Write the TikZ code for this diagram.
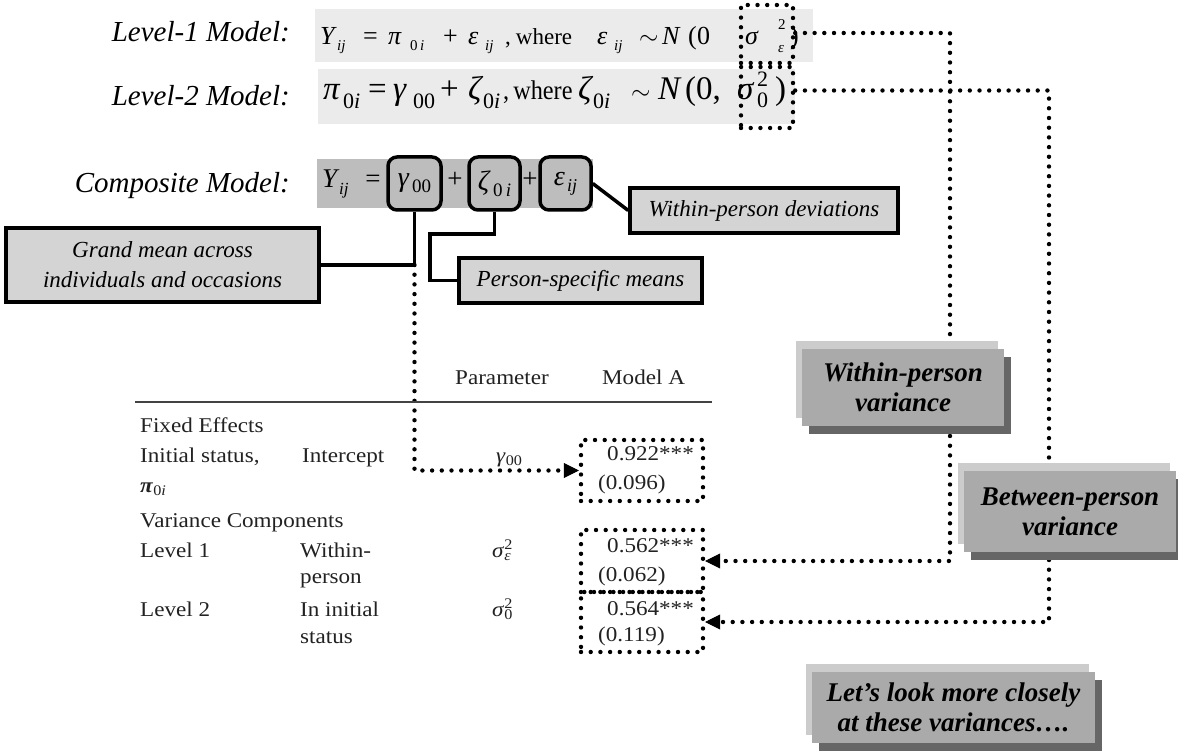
\documentclass[tikz,border=0pt]{standalone}
\usepackage{fontspec}
\setmainfont{Liberation Serif}
\newfontfamily\tabfont[FakeStretch=1.1]{Liberation Serif}
\newfontfamily\condfont[FakeStretch=0.9]{Liberation Serif}
\usetikzlibrary{arrows.meta,shadows}
\definecolor{eqbg}{HTML}{EBEBEB}
\definecolor{compbg}{HTML}{BDBDBD}
\definecolor{lblbg}{HTML}{D4D4D4}
\definecolor{varmain}{HTML}{AAAAAA}
\definecolor{varlight}{HTML}{CCCCCC}
\definecolor{vardark}{HTML}{666666}
\definecolor{tabink}{HTML}{222222}
\pgfdeclarelayer{back}\pgfdeclarelayer{lines}\pgfsetlayers{back,lines,main}
\newcommand\fs[2]{\fontsize{#1}{#2}\selectfont}
% piece: width, size, content
\newcommand\pc[3]{\makebox[#1pt][l]{\fs{#2}{#2}#3}}
% lowered piece: width, drop, size, content
\newcommand\dn[4]{\makebox[#1pt][l]{\raisebox{-#2pt}{\fs{#3}{#3}#4}}}
% stacked sup/sub: width, raise, drop, size, sup, sub
\newcommand\stk[6]{\makebox[#1pt][l]{\fs{#4}{#4}\makebox[0pt][l]{\raisebox{#2pt}{#5}}\raisebox{-#3pt}{#6}}}
\newcommand\ssub[1]{\textsubscript{#1}}
\newcommand\supsub[2]{\makebox[0pt][l]{\textsuperscript{#1}}\textsubscript{#2}}
\tikzset{
 dots/.style={line width=4.4pt, line cap=round, dash pattern=on 0pt off 9.7pt},
 arrowend/.style={-{Triangle[length=15pt,width=15pt,line width=0.5pt]}},
 eqbox/.style={fill=eqbg, draw=none, inner sep=0pt},
 sigbox/.style={dots, draw, inner sep=0pt},
 rbox/.style={draw, line width=3.5pt, rounded corners=9pt, fill=compbg, inner sep=0pt, font=\fs{28}{30}\itshape},
 lbl/.style={draw, line width=3.5pt, fill=lblbg, inner sep=0pt, align=center, font=\fs{23}{30}\itshape},
 varbox/.style={fill=varmain, inner sep=0pt, align=center, font=\fs{27}{30}\bfseries\itshape,
   general shadow={shadow xshift=-6pt, shadow yshift=8pt, fill=varlight},
   general shadow={shadow xshift=7pt, shadow yshift=-8pt, fill=vardark}},
 valbox/.style={dots, draw, inner sep=0pt, minimum width=122pt},
 tab/.style={inner sep=0pt, anchor=base west, text=tabink, font=\tabfont\fs{21}{25}},
 conn/.style={line width=3.5pt},
 mlabel/.style={inner sep=0pt, anchor=base east, font=\fs{29}{32}\itshape},
 eqtext/.style={inner sep=0pt, anchor=base west},
}
\begin{document}
\begin{tikzpicture}[x=1pt,y=-1pt]
\useasboundingbox (0,0) rectangle (1178,751);
\begin{pgfonlayer}{back}
\fill[white] (0,0) rectangle (1178,751);
\node[eqbox, minimum width=498pt, minimum height=53pt] (eq1bg) at (564,35.5) {};
\node[eqbox, minimum width=477pt, minimum height=55pt] (eq2bg) at (556.5,96.5) {};
\node[fill=compbg, inner sep=0pt, minimum width=276pt, minimum height=49pt] (cbg) at (455,183.5) {};
\end{pgfonlayer}

% model labels
\node[mlabel] (m1) at (290,42) {Level-1 Model:};
\node[mlabel] (m2) at (290,106) {Level-2 Model:};
\node[mlabel] (m3) at (290,193) {Composite Model:};

% equations
\node[eqtext] (e1) at (320,45) {\pc{17}{26}{\itshape Y}\dn{26}{6}{15}{\itshape ij}\pc{25}{26}{=}\pc{22}{26}{\itshape π}\dn{33}{6}{15}{0\,\itshape i}\pc{25}{26}{+}\pc{17}{26}{\itshape ε}\dn{20}{6}{15}{\itshape ij}\pc{92}{23}{,\hspace{5pt}where}\pc{17}{26}{\itshape ε}\dn{25}{6}{15}{\itshape ij}\pc{23}{26}{$\sim$}\pc{26}{26}{\itshape N}\pc{9}{26}{(}\pc{48}{26}{0}\pc{33}{26}{\itshape σ}\stk{12}{15}{8}{15}{2}{\itshape ε}\pc{8}{26}{)}};
\node[eqtext] (e2) at (323,100) {\pc{20}{33}{\itshape π}\dn{25}{9}{22}{0\itshape i}\pc{25}{33}{=}\pc{20}{33}{\itshape γ}\dn{27}{9}{22}{00}\pc{28}{33}{+}\pc{15}{33}{\itshape ζ}\dn{20}{9}{22}{0\itshape i}\makebox[75pt][l]{\condfont\fs{27}{27},\hspace{4pt}where}\pc{15}{33}{\itshape ζ}\dn{38}{9}{22}{0\itshape i}\pc{27}{33}{$\sim$}\pc{27}{33}{\itshape N}\pc{11}{33}{(}\pc{41}{33}{0,}\pc{20}{33}{\itshape σ}\stk{18}{13}{8}{22}{2}{0}\pc{10}{33}{)}};

% sigma boxes
\node[sigbox, minimum width=52pt, minimum height=58pt] (sigE) at (767,34) {};
\node[sigbox, minimum width=52pt, minimum height=61pt] (sigZ) at (767,97.5) {};

% composite model
\node[eqtext] (cY) at (322,188) {\pc{17}{27}{\itshape Y}\dn{20}{7}{17}{\itshape ij}};
\node[inner sep=0pt, anchor=base, font=\fs{27}{30}] (ceq) at (373,188) {=};
\node[rbox, minimum width=53pt, minimum height=53pt] (gam) at (414.5,183.5) {γ\hspace{3pt}\raisebox{-6pt}{\fs{19}{19}\upshape 00}};
\node[inner sep=0pt, anchor=base, font=\fs{27}{30}] (cp1) at (455,188) {+};
\node[rbox, minimum width=51pt, minimum height=53pt] (zet) at (494.5,183.5) {ζ\hspace{4pt}\raisebox{-6pt}{\fs{19}{19}\upshape 0\,\itshape i}};
\node[inner sep=0pt, anchor=base, font=\fs{27}{30}] (cp2) at (530,188) {+};
\node[rbox, minimum width=51pt, minimum height=53pt] (eps) at (565.5,183.5) {ε\hspace{2pt}\raisebox{-6pt}{\fs{18}{18}ij}};

% labels
\node[lbl, minimum width=313pt, minimum height=74pt] (grand) at (162.5,265) {Grand mean across\\individuals and occasions};
\node[lbl, minimum width=243pt, minimum height=45pt] (person) at (580.5,280.5) {Person-specific means};
\node[lbl, minimum width=268pt, minimum height=45pt] (wdev) at (764,210.5) {Within-person deviations};

\coordinate (zk) at (430,234);
\draw[conn] (gam.south) |- (grand.east);
\draw[conn] (zet.south) |- (zk) |- (person.west);
\draw[conn] (eps.east) -- (wdev.west);

% variance boxes
\node[varbox, minimum width=202pt, minimum height=77pt] (wvar) at (903,387.5) {Within-person\\variance};
\node[varbox, minimum width=212pt, minimum height=81pt] (bvar) at (1070,511.5) {Between-person\\variance};
\node[varbox, minimum width=283pt, minimum height=71pt] (look) at (953.5,707.5) {Let’s look more closely\\at these variances….};

% table
\node[tab] (hPar) at (455,384) {Parameter};
\node[tab] (hMod) at (602,384) {Model A};
\draw[line width=2.5pt, draw=tabink!85] (135,402) -- (712,402);
\node[tab] (fe) at (140,432) {Fixed Effects};
\node[tab] (is) at (140,462) {Initial status,};
\node[tab] (ic) at (302,462) {Intercept};
\node[tab] (pg) at (496,462) {\textit{γ}\ssub{00}};
\node[tab] (n1) at (607,460) {0.922***};
\node[tab] (pi) at (140,492) {\textbf{\textit{π}}\ssub{0\textit{i}}};
\node[tab] (n1s) at (598,489) {(0.096)};
\node[tab] (vc) at (140,527) {Variance Components};
\node[tab] (l1) at (140,557) {Level 1};
\node[tab] (wi) at (300,557) {Within-};
\node[tab] (ps) at (492,557) {\textit{σ}\supsub{2}{\textit{ε}}};
\node[tab] (n2) at (607,552) {0.562***};
\node[tab] (pe) at (300,583) {person};
\node[tab] (n2s) at (598,581) {(0.062)};
\node[tab] (l2) at (140,616) {Level 2};
\node[tab] (ii) at (300,616) {In initial};
\node[tab] (pz) at (492,616) {\textit{σ}\supsub{2}{0}};
\node[tab] (n3) at (607,615) {0.564***};
\node[tab] (st) at (300,643) {status};
\node[tab] (n3s) at (598,641) {(0.119)};

\node[valbox, minimum height=61pt] (v922) at (642,470.5) {};
\node[valbox, minimum height=62pt] (v562) at (642,561) {};
\node[valbox, minimum height=60pt] (v564) at (642,622) {};

% dotted connectors
\coordinate (wx) at (950,0);
\coordinate (bx) at (1049,0);
\begin{pgfonlayer}{lines}
\draw[dots] ([yshift=1pt]sigE.east) -| (wx |- wvar.center);
\draw[dots] ([yshift=7pt]sigZ.east) -| (bx |- bvar.center);
\draw[dots,arrowend] (wx |- wvar.center) |- (v562.east);
\draw[dots,arrowend] (bx |- bvar.center) |- (v564.east);
\draw[dots,arrowend] (gam.south |- grand.east) |- (v922.west);
\end{pgfonlayer}
\end{tikzpicture}
\end{document}
